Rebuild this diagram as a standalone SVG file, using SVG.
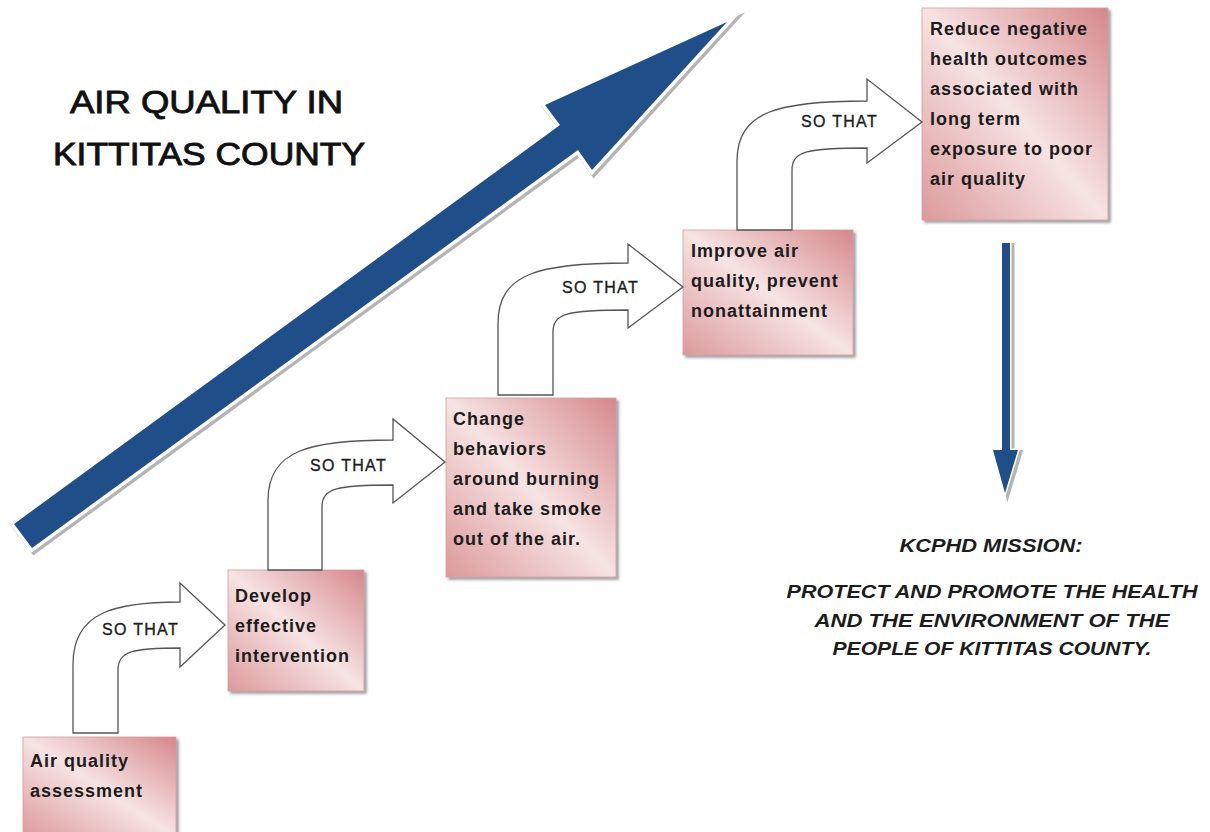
<svg xmlns="http://www.w3.org/2000/svg" width="1210" height="832" viewBox="0 0 1210 832">
<defs>
<linearGradient id="pink" x1="1" y1="0" x2="0" y2="1">
<stop offset="0" stop-color="#d6878b"/>
<stop offset="0.5" stop-color="#f7e3e3"/>
<stop offset="1" stop-color="#dc999b"/>
</linearGradient>
<filter id="sh" x="-10%" y="-10%" width="130%" height="130%">
<feDropShadow dx="2.5" dy="2.5" stdDeviation="1.2" flood-color="#555" flood-opacity="0.55"/>
</filter>
<style>
.box{fill:url(#pink);stroke:#cf9ea0;stroke-width:0.8;filter:url(#sh)}
.bt{font-family:"Liberation Sans",Arial,sans-serif;font-weight:bold;font-size:18px;letter-spacing:1px;fill:#1c1c1c}
.so{font-family:"Liberation Sans",Arial,sans-serif;font-size:16px;letter-spacing:1.3px;fill:#1c1c1c;stroke:#1c1c1c;stroke-width:0.35}
.bend{fill:#fff;stroke:#555;stroke-width:1.3;stroke-linejoin:miter}
.title{font-family:"Liberation Sans",Arial,sans-serif;font-size:31px;fill:#111;stroke:#111;stroke-width:0.9}
.mis{font-family:"Liberation Sans",Arial,sans-serif;font-weight:bold;font-style:italic;font-size:18px;fill:#1c1c1c;text-anchor:middle}
.blue{fill:#1f4e89}
.halo{fill:#fff;stroke:#fff;stroke-width:7;stroke-linejoin:miter;stroke-miterlimit:10}
.shadow{fill:#b4b4b4;stroke:#b4b4b4;stroke-width:8;stroke-linejoin:miter;stroke-miterlimit:10}
</style>
</defs>
<rect width="1210" height="832" fill="#fff"/>

<g id="big-arrow">
<polygon class="shadow" transform="translate(2,2)" points="14,524 560,125 545,105 727,22 592,170 578,150 32,548"/>
<polygon class="halo" points="14,524 560,125 545,105 727,22 592,170 578,150 32,548"/>
<polygon class="blue" points="14,524 560,125 545,105 727,22 592,170 578,150 32,548"/>
</g>

<g id="title">
<text class="title" x="70" y="113" textLength="273" lengthAdjust="spacingAndGlyphs">AIR QUALITY IN</text>
<text class="title" x="53" y="165" textLength="312" lengthAdjust="spacingAndGlyphs">KITTITAS COUNTY</text>
</g>

<g id="node-1">
<rect class="box" x="23" y="737" width="153" height="100"/>
<text class="bt" x="30" y="767">Air quality</text>
<text class="bt" x="30" y="797">assessment</text>
</g>
<g id="node-2">
<rect class="box" x="228" y="570" width="136" height="121"/>
<text class="bt" x="235" y="602">Develop</text>
<text class="bt" x="235" y="632">effective</text>
<text class="bt" x="235" y="662">intervention</text>
</g>
<g id="node-3">
<rect class="box" x="446" y="398" width="170" height="179"/>
<text class="bt" x="453" y="425">Change</text>
<text class="bt" x="453" y="455">behaviors</text>
<text class="bt" x="453" y="485">around burning</text>
<text class="bt" x="453" y="515">and take smoke</text>
<text class="bt" x="453" y="545">out of the air.</text>
</g>
<g id="node-4">
<rect class="box" x="683" y="230" width="170" height="125"/>
<text class="bt" x="691" y="257">Improve air</text>
<text class="bt" x="691" y="287">quality, prevent</text>
<text class="bt" x="691" y="317">nonattainment</text>
</g>
<g id="node-5">
<rect class="box" x="922" y="8" width="186" height="212"/>
<text class="bt" x="930" y="35">Reduce negative</text>
<text class="bt" x="930" y="65">health outcomes</text>
<text class="bt" x="930" y="95">associated with</text>
<text class="bt" x="930" y="125">long term</text>
<text class="bt" x="930" y="155">exposure to poor</text>
<text class="bt" x="930" y="185">air quality</text>
</g>

<g id="connectors">
<path class="bend" d="M73,733 L73,664 C73,612 115,602 180,602 L180,583 L225,625 L180,667 L180,648 C133,648 118,651 118,670 L118,733 Z"/>
<text class="so" x="102" y="635">SO THAT</text>
<path class="bend" d="M268,570 L268,500 C268,450 310,440 393,440 L393,419 L445,462 L393,503 L393,485 C337,485 322,488 322,507 L322,570 Z"/>
<text class="so" x="310" y="471">SO THAT</text>
<path class="bend" d="M498,395 L498,323 C498,273 540,263 628,263 L628,244 L683,287 L628,328 L628,310 C568,310 553,313 553,332 L553,395 Z"/>
<text class="so" x="562" y="293">SO THAT</text>
<path class="bend" d="M737,230 L737,161 C737,111 779,101 867,101 L867,79 L922,122 L867,163 L867,148 C807,148 792,151 792,170 L792,230 Z"/>
<text class="so" x="801" y="127">SO THAT</text>
<g id="down-arrow">
<polygon class="shadow" style="stroke-width:4" transform="translate(2.5,2)" points="1002,243 1010,243 1010,450 1018,450 1005,493 993,450 1002,450"/>
<polygon class="halo" style="stroke-width:3" points="1002,243 1010,243 1010,450 1018,450 1005,493 993,450 1002,450"/>
<polygon class="blue" points="1002,243 1010,243 1010,450 1018,450 1005,493 993,450 1002,450"/>
</g>
</g>

<g id="mission">
<text class="mis" x="991" y="552" textLength="183" lengthAdjust="spacingAndGlyphs">KCPHD MISSION:</text>
<text class="mis" x="992" y="598" textLength="411" lengthAdjust="spacingAndGlyphs">PROTECT AND PROMOTE THE HEALTH</text>
<text class="mis" x="992" y="627" textLength="355" lengthAdjust="spacingAndGlyphs">AND THE ENVIRONMENT OF THE</text>
<text class="mis" x="992" y="655" textLength="319" lengthAdjust="spacingAndGlyphs">PEOPLE OF KITTITAS COUNTY.</text>
</g>
</svg>
